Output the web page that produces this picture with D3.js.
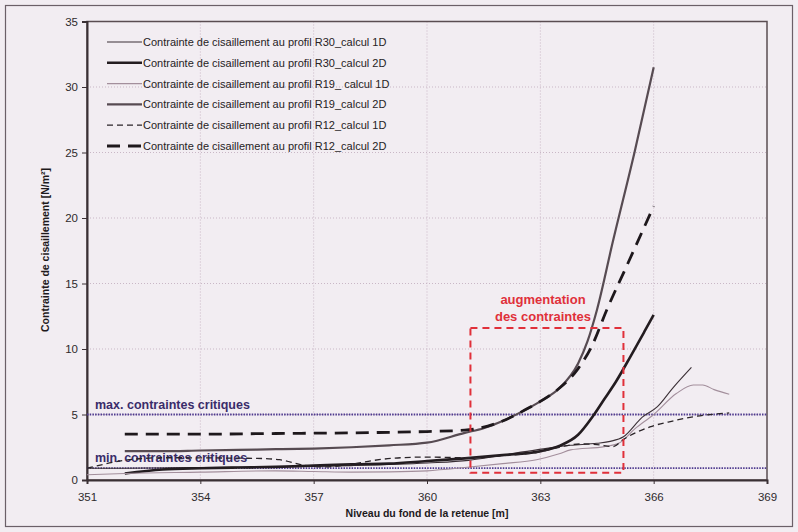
<!DOCTYPE html>
<html>
<head>
<meta charset="utf-8">
<script src="https://cdn.jsdelivr.net/npm/d3@7"></script>
<style>
  body { margin: 0; background: #f2edf2; }
  svg { display: block; font-family: "Liberation Sans", Arial, sans-serif; }
</style>
</head>
<body>
<svg id="chart" width="798" height="532"></svg>
<script>
// axis ticks
const xTicks = [351, 354, 357, 360, 363, 366, 369];
const yTicks = [0, 5, 10, 15, 20, 25, 30, 35];

// values: [niveau (m), contrainte (N/m2)]
const r30_1D = [[351, 0.9], [352, 0.9], [354, 0.95], [356, 1.0], [358, 1.1], [360, 1.3], [361.1, 1.5], [362, 1.9],
  [362.9, 2.3], [363.8, 2.65], [364.5, 2.8], [364.85, 2.95], [365.2, 3.3], [365.7, 4.8], [366.1, 5.6], [366.5, 7.0], [367, 8.6]];
const r30_2D = [[352, 0.5], [353, 0.8], [354, 0.9], [355, 0.95], [356, 1.0], [357, 1.1], [358, 1.2], [359, 1.25], [360, 1.45],
  [361, 1.65], [362, 1.9], [363, 2.2], [363.5, 2.6], [364, 3.45], [364.4, 4.9], [364.7, 6.2], [365, 7.5],
  [365.4, 9.5], [365.75, 11.3], [366, 12.6]];
const r19_1D = [[351, 0.4], [352, 0.5], [354, 0.6], [356, 0.7], [357, 0.65], [358, 0.6], [359, 0.62], [360, 0.7], [361, 0.95],
  [362, 1.25], [362.9, 1.55], [363.5, 2.0], [363.8, 2.3], [364.7, 2.55], [365.1, 2.85], [365.5, 3.9], [366, 5.0], [366.6, 6.6],
  [367.05, 7.25], [367.3, 7.25], [367.6, 6.9], [368, 6.55]];
const r19_2D = [[352, 2.2], [353, 2.2], [354, 2.25], [355, 2.3], [356, 2.35], [357, 2.4], [358, 2.5], [359, 2.65], [360, 2.85],
  [361, 3.6], [361.5, 3.95], [362, 4.5], [362.5, 5.2], [363, 6.0], [363.5, 7.0], [364, 8.9], [364.25, 10.6], [364.5, 13.0],
  [364.92, 18.2], [365.5, 25.1], [366, 31.5]];
const r12_1D = [[351, 0.9], [352, 1.5], [353, 1.7], [355.5, 1.65], [356.1, 1.55], [356.7, 1.15], [357.3, 1.0], [358, 1.2],
  [358.6, 1.5], [359.3, 1.7], [360, 1.75], [361.1, 1.7], [362, 1.85], [362.9, 2.1], [363.5, 2.5], [364.05, 2.75], [364.5, 2.7],
  [364.93, 2.55], [365.2, 3.1], [365.9, 4.05], [366.5, 4.5], [367, 4.8], [368, 5.12]];
const r12_2D = [[352, 3.5], [354, 3.5], [356, 3.55], [358, 3.6], [360, 3.7], [361, 3.8], [362, 4.5], [362.5, 5.2], [363, 6.0],
  [363.5, 7.0], [364, 8.5], [364.36, 10.2], [364.76, 13.0], [365.28, 16.3], [366, 20.9]];

const seriesNames = [
  "Contrainte de cisaillement au profil R30_calcul 1D",
  "Contrainte de cisaillement au profil R30_calcul 2D",
  "Contrainte de cisaillement au profil R19_ calcul 1D",
  "Contrainte de cisaillement au profil R19_calcul 2D",
  "Contrainte de cisaillement au profil R12_calcul 1D",
  "Contrainte de cisaillement au profil R12_calcul 2D"
];
const criticalMax = 5.0;
const criticalMin = 0.9;
const zoneX = [361.15, 365.2];
const zoneY = [0.55, 11.6];

const styles = [
  {color: "#3b3036", width: 1.1, dash: null},
  {color: "#231c20", width: 2.6, dash: null},
  {color: "#a38f9c", width: 1.1, dash: null},
  {color: "#574b52", width: 2.2, dash: null},
  {color: "#2a2428", width: 1.3, dash: "6,4"},
  {color: "#1e181c", width: 2.8, dash: "13,8"}
];
const seriesData = [r30_1D, r30_2D, r19_1D, r19_2D, r12_1D, r12_2D];

const svg = d3.select("#chart");
const x = d3.scaleLinear().domain([351, 369]).range([87, 767]);
const y = d3.scaleLinear().domain([0, 35]).range([480, 21.5]);

// outer frame
svg.append("rect").attr("x", 5.5).attr("y", 5.5).attr("width", 787).attr("height", 521)
  .attr("fill", "none").attr("stroke", "#6b6068").attr("stroke-width", 1.2);

// grid
svg.append("g").selectAll("line").data(xTicks.slice(1, -1)).join("line")
  .attr("x1", d => x(d)).attr("x2", d => x(d)).attr("y1", y(35)).attr("y2", y(0))
  .attr("stroke", "#c9b7c6").attr("stroke-dasharray", "1,2");
svg.append("g").selectAll("line").data(yTicks.slice(1, -1)).join("line")
  .attr("x1", x(351)).attr("x2", x(369)).attr("y1", d => y(d)).attr("y2", d => y(d))
  .attr("stroke", "#c9b7c6").attr("stroke-dasharray", "1,2");

// plot frame
svg.append("rect").attr("x", x(351)).attr("y", y(35)).attr("width", x(369) - x(351)).attr("height", y(0) - y(35))
  .attr("fill", "none").attr("stroke", "#5a4d52").attr("stroke-width", 1.5);

// axes
const xAxis = svg.append("g").attr("transform", `translate(0,${y(0)})`)
  .call(d3.axisBottom(x).tickValues(xTicks).tickSize(4).tickPadding(9));
const yAxis = svg.append("g").attr("transform", `translate(${x(351)},0)`)
  .call(d3.axisLeft(y).tickValues(yTicks).tickSize(5).tickPadding(4));
[xAxis, yAxis].forEach(a => {
  a.select(".domain").attr("stroke", "#3a3034").attr("stroke-width", 2);
  a.selectAll(".tick line").attr("stroke", "#3a3034");
  a.selectAll(".tick text").attr("fill", "#2e2a2c").attr("font-size", 11.5)
    .attr("font-family", "Liberation Sans, Arial, sans-serif");
});

// critical levels
svg.append("g").selectAll("line").data([criticalMax, criticalMin]).join("line")
  .attr("x1", x(351)).attr("x2", x(369)).attr("y1", d => y(d)).attr("y2", d => y(d))
  .attr("stroke", "#4f3b8f").attr("stroke-width", 1.8).attr("stroke-dasharray", "1.5,1.2");
svg.append("text").attr("x", 95).attr("y", y(criticalMax) - 6)
  .attr("fill", "#3a2c6a").attr("font-weight", "bold").attr("font-size", 12.5)
  .text("max. contraintes critiques");
svg.append("text").attr("x", 95).attr("y", y(criticalMin) - 6)
  .attr("fill", "#3a2c6a").attr("font-weight", "bold").attr("font-size", 12.5)
  .text("min. contraintes critiques");

// series
const line = d3.line().x(d => x(d[0])).y(d => y(d[1])).curve(d3.curveMonotoneX);
svg.append("g").selectAll("path").data(seriesData).join("path")
  .attr("d", line)
  .attr("fill", "none")
  .attr("stroke", (d, i) => styles[i].color)
  .attr("stroke-width", (d, i) => styles[i].width)
  .attr("stroke-dasharray", (d, i) => styles[i].dash);

// zone of increasing stress
svg.append("rect").attr("x", x(zoneX[0])).attr("y", y(zoneY[1]))
  .attr("width", x(zoneX[1]) - x(zoneX[0])).attr("height", y(zoneY[0]) - y(zoneY[1]))
  .attr("fill", "none").attr("stroke", "#e0303a").attr("stroke-width", 2).attr("stroke-dasharray", "7,5");
svg.append("g").selectAll("text").data(["augmentation", "des contraintes"]).join("text")
  .attr("x", 543).attr("y", (d, i) => 304 + i * 17)
  .attr("text-anchor", "middle").attr("fill", "#e0303a")
  .attr("font-weight", "bold").attr("font-size", 13)
  .text(d => d);

// legend
const leg = svg.append("g").selectAll("g").data(seriesNames).join("g")
  .attr("transform", (d, i) => `translate(107,${42 + i * 20.8})`);
leg.append("line").attr("x1", 0).attr("x2", 35).attr("y1", 0).attr("y2", 0)
  .attr("stroke", (d, i) => styles[i].color)
  .attr("stroke-width", (d, i) => styles[i].width)
  .attr("stroke-dasharray", (d, i) => styles[i].dash);
leg.append("text").attr("x", 36).attr("y", 4).attr("font-size", 11).attr("fill", "#262224")
  .text(d => d);

// axis titles
svg.append("text").attr("x", x(360)).attr("y", 517).attr("text-anchor", "middle")
  .attr("font-weight", "bold").attr("font-size", 10.5).attr("fill", "#1e1a1c")
  .text("Niveau du fond de la retenue [m]");
svg.append("text").attr("transform", `translate(49,${250}) rotate(-90)`).attr("text-anchor", "middle")
  .attr("font-weight", "bold").attr("font-size", 10.5).attr("fill", "#1e1a1c")
  .text("Contrainte de cisaillement [N/m²]");
</script>
</body>
</html>
